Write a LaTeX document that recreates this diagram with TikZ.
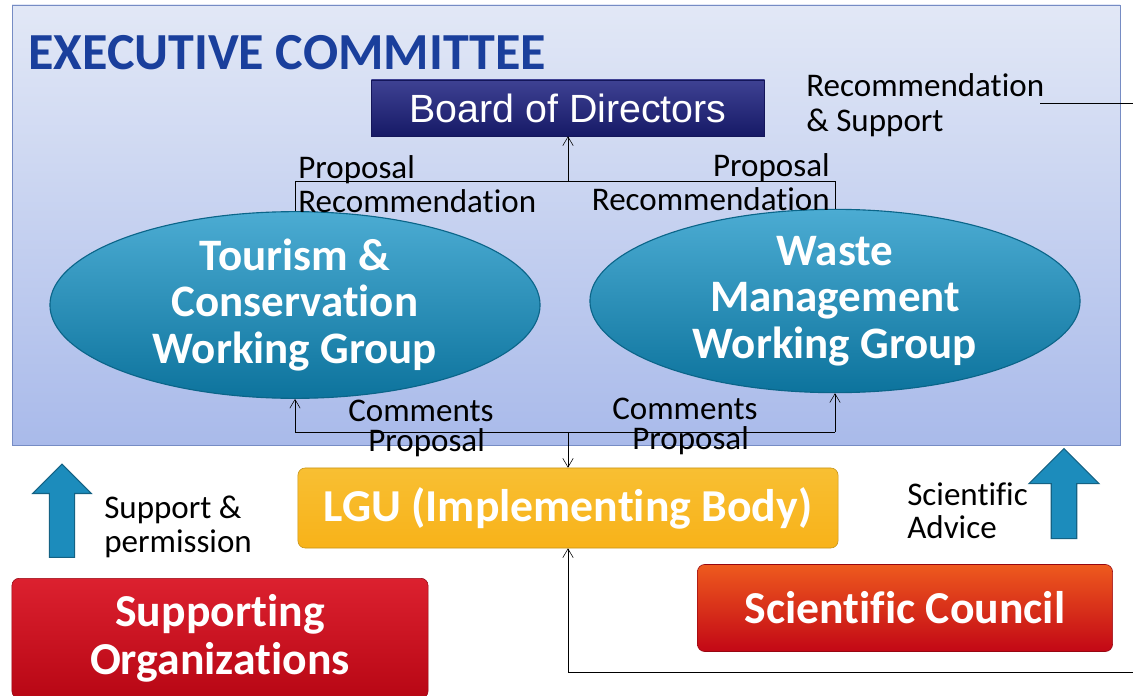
\documentclass[tikz,border=0pt]{standalone}
\usepackage{fontspec}
\setmainfont{Carlito}[Ligatures={NoCommon}]
\newfontfamily\arialfont{Liberation Sans}
\usepackage{tikz}
\usetikzlibrary{arrows.meta,shapes.geometric,shapes.arrows}
\definecolor{execblue}{HTML}{1A3F9C}
\definecolor{exectop}{HTML}{E2E8F6}
\definecolor{execbot}{HTML}{A9BAEA}
\definecolor{navy}{HTML}{1C2080}
\definecolor{teal}{HTML}{1090C4}
\definecolor{gold}{HTML}{F7B81C}
\definecolor{redbox}{HTML}{D80818}
\definecolor{orangebox}{HTML}{EE5A1E}
\definecolor{arrowblue}{HTML}{1C8CBC}

\begin{document}
\begin{tikzpicture}[x=0.025cm, y=-0.025cm, >={Straight Barb[length=2.2mm,width=2.6mm]},
		lbl/.style={font=\fontsize{23.5}{24}\selectfont, text=black, inner sep=0pt},
		wgroup/.style={ellipse, minimum width=12.25cm, minimum height=4.5cm, inner sep=0pt, top color=teal!75!white, bottom color=teal!80!black, draw=teal!70!black, thick, text=white, align=center, font=\fontsize{32}{33}\selectfont\bfseries},
		boxtxt/.style={rounded corners=0.18cm, text=white, align=center, font=\fontsize{32.5}{33.5}\selectfont\bfseries},
		blockarrow/.style={single arrow, rotate=90, inner sep=0.3cm, single arrow head extend=0.42cm, fill=arrowblue, draw=arrowblue!70!black, thick}]
		\useasboundingbox (0,0) rectangle (1133,696);
		\fill[white] (0,0) rectangle (1133,696);
		% executive committee frame
		\draw[draw=execblue!60, top color=exectop, bottom color=execbot] (12,5) rectangle (1120,445);
		\node[anchor=base west, inner sep=0pt, text=execblue, font=\fontsize{37}{37}\selectfont\bfseries] (exec) at (28,70) {EXECUTIVE COMMITTEE};
		\node[minimum width=9.825cm, minimum height=1.4cm, top color=navy!85!white, bottom color=navy!80!black, draw=navy!70!black, text=white, font=\arialfont\fontsize{28}{28}\selectfont] (bod) at (568,108) {Board of Directors};
		\node[wgroup] (tcwg) at (295,305) {Tourism \&\\Conservation\\Working Group};
		\node[wgroup] (wmwg) at (835,301) {Waste\\Management\\Working Group};
		\node[boxtxt, minimum width=13.5cm, minimum height=2cm, top color=gold!90!white, bottom color=gold!90!orange, draw=gold!80!black] (lgu) at (568,508) {LGU (Implementing Body)};
		\node[boxtxt, anchor=north, minimum width=10.4cm, minimum height=3cm, top color=redbox!90!white, bottom color=redbox!85!black, draw=redbox!70!black] (sorg) at (220,578) {Supporting\\Organizations};
		\node[boxtxt, minimum width=10.375cm, minimum height=2.175cm, top color=orangebox, bottom color=redbox!90!black, draw=redbox!70!black] (scou) at (905,608) {Scientific Council};
		\node[blockarrow, minimum height=2.33cm, minimum width=1.45cm] (larr) at (62,517) {};
		\node[blockarrow, minimum height=2.25cm, minimum width=1.75cm, single arrow head extend=0.55cm] (rarr) at (1064,500) {};
		% connectors
		\coordinate (ptop) at (568,181);
		\coordinate (pbot) at (568,432);
		\coordinate (rs) at (1040,103);
		\coordinate (re) at (1133,103);
		\coordinate (rb) at (1133,672);
		\draw (tcwg.north) -- (tcwg.north |- ptop) -- (wmwg.north |- ptop) -- (wmwg.north);
		\draw[->] (ptop) -- (bod.south);
		\draw[->] (pbot -| tcwg.south) -- (tcwg.south);
		\draw[->] (pbot -| wmwg.south) -- (wmwg.south);
		\draw (pbot -| tcwg.south) -- (pbot -| wmwg.south);
		\draw[->] (pbot) -- (lgu.north);
		\draw (rs) -- (re);
		\draw[->] (rb) -| (lgu.south);
		% labels
		\node[lbl, anchor=base west] (prl) at (298,178) {Proposal};
		\node[lbl, anchor=base west] (rcl) at (298,212) {Recommendation};
		\node[lbl, anchor=base east] (prr) at (830,176) {Proposal};
		\node[lbl, anchor=base east] (rcr) at (830,210) {Recommendation};
		\node[lbl, anchor=base west] (cml) at (348,421) {Comments};
		\node[lbl, anchor=base west] (ppl) at (368,451) {Proposal};
		\node[lbl, anchor=base west] (cmr) at (612,419) {Comments};
		\node[lbl, anchor=base west] (ppr) at (632,449) {Proposal};
		\node[lbl, anchor=north west, align=left, font=\fontsize{23.5}{25}\selectfont] (recsup) at (806,73) {Recommendation\\\& Support};
		\node[lbl, anchor=north west, align=left] (supp) at (104,496) {Support \&\\permission};
		\node[lbl, anchor=north west, align=left] (sadv) at (907,482) {Scientific\\Advice};
	\end{tikzpicture}
\end{document}
